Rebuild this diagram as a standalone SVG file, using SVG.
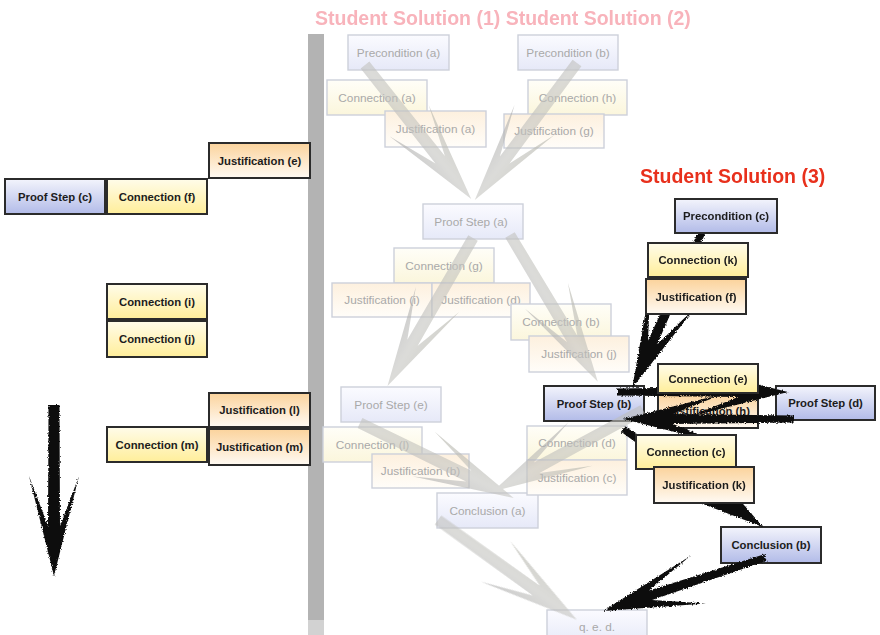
<svg xmlns="http://www.w3.org/2000/svg" xmlns:xlink="http://www.w3.org/1999/xlink" width="880" height="635" viewBox="0 0 880 635">
  <style>
    .box{stroke:#2b2b2b;stroke-width:2}
    .blue{fill:url(#gBlue)}
    .yellow{fill:url(#gYellow)}
    .orange{fill:url(#gOrange)}
    .node text{font-family:"Liberation Sans",Arial,sans-serif;font-weight:bold;font-size:11.3px;fill:#1c1c1c;text-anchor:middle}
    .ghost rect{stroke:#cdd0da;stroke-width:1.4}
    .ghost .blue{fill:url(#gBlueF)}
    .ghost .yellow{fill:url(#gYellowF)}
    .ghost .orange{fill:url(#gOrangeF)}
    .ghost text{font-weight:normal;font-size:11.8px;fill:#a9a9a9}
    .title{font-family:"Liberation Sans",Arial,sans-serif;font-weight:bold;font-size:19.5px}
    .faint-arrow{fill:url(#gFaint);opacity:0.6}
    .ink-arrow{fill:#0d0d0d}
  </style>
  <defs>
    <linearGradient id="gBlue" x1="0" y1="0" x2="0" y2="1"><stop offset="0" stop-color="#f3f4fc"/><stop offset="1" stop-color="#b2bbe8"/></linearGradient>
    <linearGradient id="gYellow" x1="0" y1="0" x2="0" y2="1"><stop offset="0" stop-color="#fffcea"/><stop offset="1" stop-color="#ffee9a"/></linearGradient>
    <linearGradient id="gOrange" x1="0" y1="0" x2="0" y2="1"><stop offset="0" stop-color="#fbd39c"/><stop offset="1" stop-color="#fffaf3"/></linearGradient>
    <linearGradient id="gBlueF" x1="0" y1="0" x2="0" y2="1"><stop offset="0" stop-color="#fbfbff"/><stop offset="1" stop-color="#e6e9f8"/></linearGradient>
    <linearGradient id="gYellowF" x1="0" y1="0" x2="0" y2="1"><stop offset="0" stop-color="#fffef8"/><stop offset="1" stop-color="#fbf6dc"/></linearGradient>
    <linearGradient id="gOrangeF" x1="0" y1="0" x2="0" y2="1"><stop offset="0" stop-color="#fdf0de"/><stop offset="1" stop-color="#fffdf9"/></linearGradient>
    <!-- soft grey shading across the faded arrows -->
    <linearGradient id="gFaint" x1="0" y1="0" x2="0" y2="1"><stop offset="0" stop-color="#b4b4aa"/><stop offset="0.5" stop-color="#c4c4c0"/><stop offset="1" stop-color="#a9a9a9"/></linearGradient>
    <!-- brush-stroke roughness for the hand-drawn arrows -->
    <filter id="rough" x="-10%" y="-10%" width="120%" height="120%">
      <feTurbulence type="fractalNoise" baseFrequency="0.8" numOctaves="2" seed="4" result="noise"/>
      <feDisplacementMap in="SourceGraphic" in2="noise" scale="3.5" xChannelSelector="R" yChannelSelector="G"/>
    </filter>
    <!-- swept arrow, pointing along +x, 171 long -->
    <path id="arrow" d="M0,-3.5 L121,-5 L71,-25 L171,0 L71,25 L121,5 L0,3.5 Z"/>
    <path id="arrowWide" d="M0,-5.5 L121,-6 L71,-25 L171,0 L71,25 L121,6 L0,5.5 Z"/>
  </defs>

  <rect width="880" height="635" fill="#ffffff"/>

  <!-- divider bar -->
  <rect x="308" y="34" width="16" height="586" fill="#b3b3b3"/>
  <rect x="308" y="620" width="16" height="15" fill="#d2d2d2"/>

  <!-- solutions 1 and 2 (faded) -->
  <g id="precondition-a" class="node ghost"><rect class="blue" x="348" y="35" width="101" height="35"/><text x="398.5" y="56.5">Precondition (a)</text></g>
  <g id="precondition-b" class="node ghost"><rect class="blue" x="518" y="35" width="100" height="35"/><text x="568" y="56.5">Precondition (b)</text></g>
  <g id="connection-a" class="node ghost"><rect class="yellow" x="327" y="80" width="100" height="35"/><text x="377" y="101.5">Connection (a)</text></g>
  <g id="connection-h" class="node ghost"><rect class="yellow" x="528" y="80" width="99" height="35"/><text x="577.5" y="101.5">Connection (h)</text></g>
  <g id="justification-a" class="node ghost"><rect class="orange" x="385" y="111" width="101" height="36"/><text x="435.5" y="133">Justification (a)</text></g>
  <g id="justification-g" class="node ghost"><rect class="orange" x="504" y="114" width="100" height="34"/><text x="554" y="135">Justification (g)</text></g>
  <g id="proof-step-a" class="node ghost"><rect class="blue" x="423" y="204" width="100" height="35"/><text x="471" y="225.5">Proof Step (a)</text></g>
  <g id="connection-g" class="node ghost"><rect class="yellow" x="394" y="248" width="100" height="35"/><text x="444" y="269.5">Connection (g)</text></g>
  <g id="justification-i" class="node ghost"><rect class="orange" x="332" y="283" width="100" height="34"/><text x="382" y="304">Justification (i)</text></g>
  <g id="justification-d" class="node ghost"><rect class="orange" x="432" y="283" width="98" height="34"/><text x="481" y="304">Justification (d)</text></g>
  <g id="connection-b" class="node ghost"><rect class="yellow" x="511" y="304" width="100" height="36"/><text x="561" y="326">Connection (b)</text></g>
  <g id="justification-j" class="node ghost"><rect class="orange" x="529" y="336" width="100" height="36"/><text x="579" y="358">Justification (j)</text></g>
  <g id="proof-step-e" class="node ghost"><rect class="blue" x="341" y="387" width="100" height="35"/><text x="391" y="408.5">Proof Step (e)</text></g>
  <g id="connection-l" class="node ghost"><rect class="yellow" x="323" y="427" width="99" height="35"/><text x="372.5" y="448.5">Connection (l)</text></g>
  <g id="justification-b" class="node ghost"><rect class="orange" x="372" y="454" width="97" height="34"/><text x="420.5" y="475">Justification (b)</text></g>
  <g id="conclusion-a" class="node ghost"><rect class="blue" x="437" y="493" width="101" height="35"/><text x="487.5" y="514.5">Conclusion (a)</text></g>
  <g id="connection-d" class="node ghost"><rect class="yellow" x="527" y="426" width="100" height="34"/><text x="577" y="447">Connection (d)</text></g>
  <g id="justification-c" class="node ghost"><rect class="orange" x="527" y="460" width="100" height="35"/><text x="577" y="481.5">Justification (c)</text></g>
  <g id="qed" class="node ghost"><rect class="blue" x="547" y="610" width="100" height="35"/><text x="597" y="631">q. e. d.</text></g>

  <!-- left column -->
  <g id="justification-e" class="node"><rect class="box orange" x="209" y="143" width="101" height="35"/><text x="259.5" y="164.5">Justification (e)</text></g>
  <g id="proof-step-c" class="node"><rect class="box blue" x="5" y="179" width="100" height="35"/><text x="55" y="200.5">Proof Step (c)</text></g>
  <g id="connection-f" class="node"><rect class="box yellow" x="107" y="179" width="100" height="35"/><text x="157" y="200.5">Connection (f)</text></g>
  <g id="connection-i" class="node"><rect class="box yellow" x="107" y="284" width="100" height="35"/><text x="157" y="305.5">Connection (i)</text></g>
  <g id="connection-j" class="node"><rect class="box yellow" x="107" y="321" width="100" height="36"/><text x="157" y="343">Connection (j)</text></g>
  <g id="justification-l" class="node"><rect class="box orange" x="209" y="393" width="101" height="34"/><text x="259.5" y="414">Justification (l)</text></g>
  <g id="connection-m" class="node"><rect class="box yellow" x="107" y="427" width="100" height="35"/><text x="157" y="448.5">Connection (m)</text></g>
  <g id="justification-m" class="node"><rect class="box orange" x="209" y="429" width="101" height="36"/><text x="259.5" y="451">Justification (m)</text></g>

  <!-- solution 3, nodes lying under the arrows -->
  <g id="proof-step-b" class="node"><rect class="box blue" x="544" y="386" width="100" height="35"/><text x="594" y="407.5">Proof Step (b)</text></g>
  <g id="proof-step-d" class="node"><rect class="box blue" x="776" y="386" width="99" height="34"/><text x="825.5" y="407">Proof Step (d)</text></g>
  <g id="justification-h" class="node"><rect class="box orange" x="658" y="393" width="100" height="35"/><text x="708" y="414.5">Justification (h)</text></g>
  <g id="conclusion-b" class="node"><rect class="box blue" x="721" y="527" width="100" height="36"/><text x="771" y="549">Conclusion (b)</text></g>

  <!-- connectors -->
  <g id="connectors">
    <g class="faint-arrow">
      <use xlink:href="#arrowWide" href="#arrowWide" transform="translate(365,65) rotate(51.6)"/>
      <use xlink:href="#arrowWide" href="#arrowWide" transform="translate(577,63) rotate(126.7)"/>
      <use xlink:href="#arrowWide" href="#arrowWide" transform="translate(473,238) rotate(120)"/>
      <use xlink:href="#arrowWide" href="#arrowWide" transform="translate(510,235) rotate(59.1)"/>
      <use xlink:href="#arrowWide" href="#arrowWide" transform="translate(360,423) rotate(26)"/>
      <use xlink:href="#arrowWide" href="#arrowWide" transform="translate(643,410) rotate(151.5)"/>
      <use xlink:href="#arrowWide" href="#arrowWide" transform="translate(438,520) rotate(35.7)"/>
    </g>
    <g class="ink-arrow" filter="url(#rough)">
      <use xlink:href="#arrowWide" href="#arrowWide" transform="translate(54,405) rotate(90)"/>
      <use xlink:href="#arrow" href="#arrow" transform="translate(702,232) rotate(114.1)"/>
      <use xlink:href="#arrow" href="#arrow" transform="translate(617,392) rotate(0)"/>
      <use xlink:href="#arrow" href="#arrow" transform="translate(794,419) rotate(180)"/>
      <use xlink:href="#arrow" href="#arrow" transform="translate(623,429) rotate(35)"/>
      <use xlink:href="#arrow" href="#arrow" transform="translate(765.5,557.5) rotate(161.8)"/>
    </g>
  </g>

  <!-- solution 3, nodes lying over the arrows -->
  <g id="connection-e" class="node"><rect class="box yellow" x="658" y="364" width="100" height="29"/><text x="708" y="383">Connection (e)</text></g>
  <g id="connection-c" class="node"><rect class="box yellow" x="636" y="435" width="100" height="34"/><text x="686" y="456">Connection (c)</text></g>
  <g id="justification-k" class="node"><rect class="box orange" x="654" y="467" width="100" height="36"/><text x="704" y="489">Justification (k)</text></g>
  <g id="precondition-c" class="node"><rect class="box blue" x="675" y="199" width="102" height="34"/><text x="726" y="220">Precondition (c)</text></g>
  <g id="connection-k" class="node"><rect class="box yellow" x="648" y="243" width="100" height="34"/><text x="698" y="264">Connection (k)</text></g>
  <g id="justification-f" class="node"><rect class="box orange" x="646" y="279" width="100" height="35"/><text x="696" y="300.5">Justification (f)</text></g>

  <!-- headings -->
  <text class="title" x="315" y="24.5" fill="#f8b3bb">Student Solution (1) Student Solution (2)</text>
  <text class="title" x="640" y="183" fill="#e8301c">Student Solution (3)</text>
</svg>
